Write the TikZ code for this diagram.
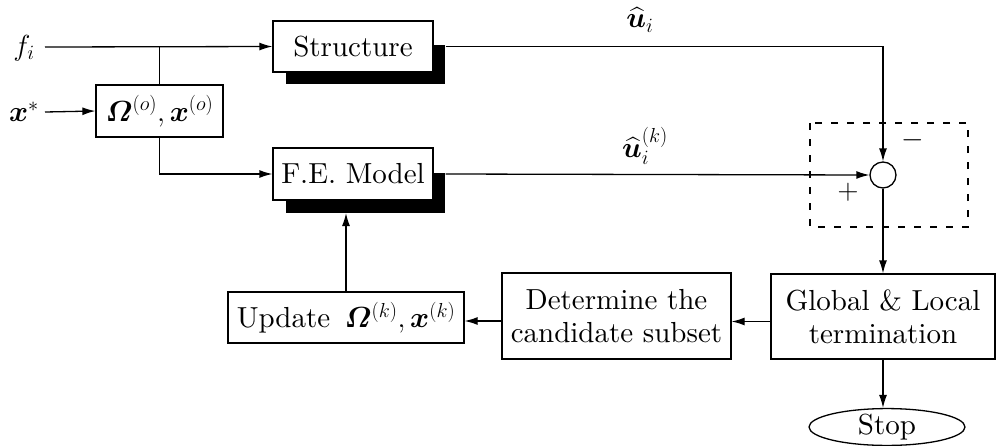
\RequirePackage{fix-cm}
\documentclass[tikz,border=0pt]{standalone}
\usepackage{amsmath}
\usepackage{bm}
\usepackage{fontspec}
\setmainfont{lmroman10-regular}[Extension=.otf,BoldFont=lmroman10-bold,ItalicFont=lmroman10-italic,BoldItalicFont=lmroman10-bolditalic]
\usetikzlibrary{arrows.meta,calc,shapes.geometric}
\begin{document}
\begin{tikzpicture}[x=1pt,y=-1pt,
  every node/.style={font=\fontsize{29}{33}\selectfont},
  box/.style={draw,line width=1.3pt,fill=white,inner sep=0pt,align=center},
  arr/.style={line width=1.3pt,-{Latex[length=13pt,width=8pt]}},
  ln/.style={line width=1.3pt}]
\useasboundingbox (0,0) rectangle (997,445);
% shadows
\fill (286,45) rectangle (445,84);
\fill (286,173) rectangle (445,213);
\coordinate (FEsh) at (366,213);
% boxes
\node[box,minimum width=160pt,minimum height=51pt] (S) at (353,46.5) {Structure};
\node[box,minimum width=160pt,minimum height=52pt] (FE) at (353,174) {F.E. Model};
\node[box,minimum width=127pt,minimum height=52pt] (O) at (159.5,111) {$\bm{\varOmega}^{(o)},\bm{x}^{(o)}$};
\node[draw,circle,line width=1.3pt,minimum size=26pt,inner sep=0pt] (C) at (883,175) {};
\draw[line width=1.1pt,dash pattern=on 7pt off 9pt] (810,123) rectangle (968,227);
\node[box,minimum width=224pt,minimum height=85pt,font=\fontsize{29}{33}\selectfont] (G) at (883,316.5) {Global \& Local\\termination};
\node[box,minimum width=229pt,minimum height=86pt,font=\fontsize{29}{33}\selectfont] (D) at (616.5,316) {Determine the\\candidate subset};
\node[box,minimum width=236pt,minimum height=51pt] (U) at (346,317.5) {Update\, $\bm{\varOmega}^{(k)},\bm{x}^{(k)}$};
\node[draw,ellipse,line width=1.3pt,minimum width=156pt,minimum height=36pt,inner sep=0pt] (ST) at (887,427) {Stop};
% labels
\node (fi) at (24,48) {$f_i$};
\node (xs) at (24,112) {$\bm{x}^{*}$};
\node (ui) at (640,20) {$\widehat{\bm{u}}_i$};
\node (uik) at (645,146) {$\widehat{\bm{u}}_i^{(k)}$};
\node (mi) at (913,140) {$-$};
\node (pl) at (848,192) {$+$};
% connectors
\coordinate (fstart) at (45,47);
\coordinate (xstart) at (45,112);
\draw[arr] (fstart) -- (S.west);
\draw[ln] (O.north) -- (O.north |- fstart);
\draw[arr] (xstart) -- (O.west);
\draw[arr] (O.south) |- (FE.west);
\draw[arr] ($(S.east)+(12,0)$) -| (C.north);
\draw[arr] ($(FE.east)+(12,0)$) -- (C.west);
\draw[arr] (C.south) -- (C.south |- G.north);
\draw[arr] ($(G.west)+(0,5)$) -- ($(D.east)+(0,5.5)$);
\draw[arr] ($(D.west)+(0,5)$) -- ($(U.east)+(0,3.5)$);
\draw[arr] (U.north) -- (U.north |- FEsh);
\draw[arr] (G.south) -- (G.south |- ST.north);
\end{tikzpicture}
\end{document}
